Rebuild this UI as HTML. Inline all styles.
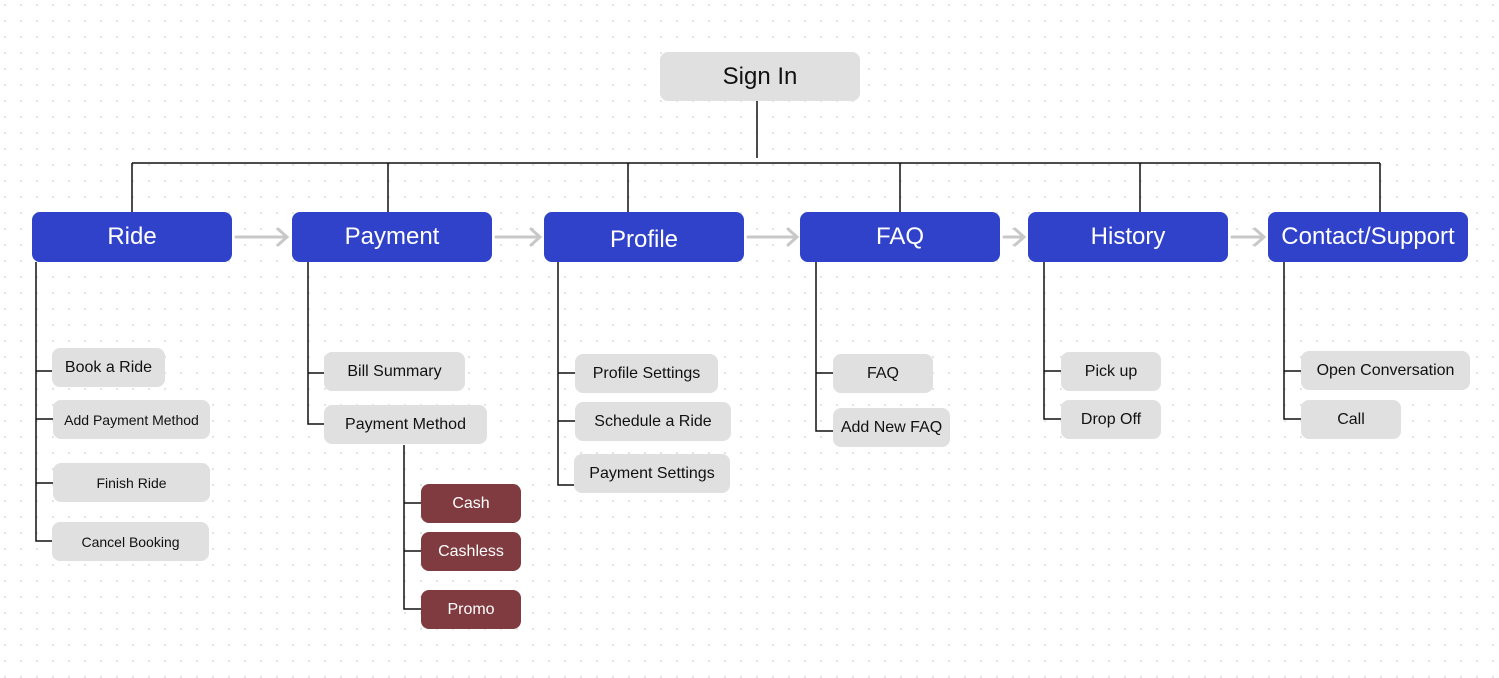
<!DOCTYPE html>
<html><head><meta charset="utf-8"><style>
body{margin:0;width:1499px;height:678px;overflow:hidden;background-color:#fff;background-image:radial-gradient(circle,#e2e2e2 1px,transparent 1.3px);background-size:16px 16px;background-position:-3px -3px;font-family:"Liberation Sans",sans-serif;position:relative}
.b{position:absolute;display:flex;align-items:center;justify-content:center;border-radius:8px;box-sizing:border-box;white-space:nowrap}
.m{background:#3042c9;color:#fff;font-size:24px;height:50px;width:200px;top:212px}
.g{background:#e0e0e0;color:#111;font-size:16px;height:39px}
.r{background:#7f3b3f;color:#fff;font-size:16px;height:39px;width:100px;left:421px}
.l{position:absolute;background:#111}
</style></head><body>
<svg width="1499" height="678" style="position:absolute;left:0;top:0">
<g stroke="#111" stroke-width="1.5" fill="none">
<path d="M757 101V158M132 163H1380M132 163V212M388 163V212M628 163V212M900 163V212M1140 163V212M1380 163V212"/>
<path d="M36 262V541H52M36 371H52M36 419H53M36 483H53"/>
<path d="M308 262V424H324M308 373H324"/>
<path d="M404 445V609H421M404 503H421M404 551H421"/>
<path d="M558 262V485H574M558 373H575M558 421H575"/>
<path d="M816 262V431H833M816 373H833"/>
<path d="M1044 262V419H1061M1044 371H1061"/>
<path d="M1284 262V419H1301M1284 371H1301"/>
</g>
<g stroke="#c8c8c8" stroke-width="3" fill="none" stroke-linecap="round">
<path d="M236 237H286M278 229L287 237L278 245"/>
<path d="M496 237H539M531 229L540 237L531 245"/>
<path d="M748 237H796M788 229L797 237L788 245"/>
<path d="M1004 237H1023M1015 229L1024 237L1015 245"/>
<path d="M1232 237H1263M1255 229L1264 237L1255 245"/>
</g>
</svg>
<div class="b g" style="left:660px;top:52px;width:200px;height:49px;font-size:24px">Sign In</div>
<div class="b m" style="left:32px">Ride</div>
<div class="b m" style="left:292px">Payment</div>
<div class="b m" style="left:544px;padding-top:5px">Profile</div>
<div class="b m" style="left:800px">FAQ</div>
<div class="b m" style="left:1028px">History</div>
<div class="b m" style="left:1268px">Contact/Support</div>

<div class="b g" style="left:52px;top:348px;width:113px">Book a Ride</div>
<div class="b g" style="left:53px;top:400px;width:157px;font-size:14px">Add Payment Method</div>
<div class="b g" style="left:53px;top:463px;width:157px;font-size:14px">Finish Ride</div>
<div class="b g" style="left:52px;top:522px;width:157px;font-size:14px">Cancel Booking</div>

<div class="b g" style="left:324px;top:352px;width:141px">Bill Summary</div>
<div class="b g" style="left:324px;top:405px;width:163px">Payment Method</div>
<div class="b r" style="top:484px">Cash</div>
<div class="b r" style="top:532px">Cashless</div>
<div class="b r" style="top:590px">Promo</div>

<div class="b g" style="left:575px;top:354px;width:143px">Profile Settings</div>
<div class="b g" style="left:575px;top:402px;width:156px">Schedule a Ride</div>
<div class="b g" style="left:574px;top:454px;width:156px">Payment Settings</div>

<div class="b g" style="left:833px;top:354px;width:100px">FAQ</div>
<div class="b g" style="left:833px;top:408px;width:117px">Add New FAQ</div>

<div class="b g" style="left:1061px;top:352px;width:100px">Pick up</div>
<div class="b g" style="left:1061px;top:400px;width:100px">Drop Off</div>

<div class="b g" style="left:1301px;top:351px;width:169px">Open Conversation</div>
<div class="b g" style="left:1301px;top:400px;width:100px">Call</div>
</body></html>
